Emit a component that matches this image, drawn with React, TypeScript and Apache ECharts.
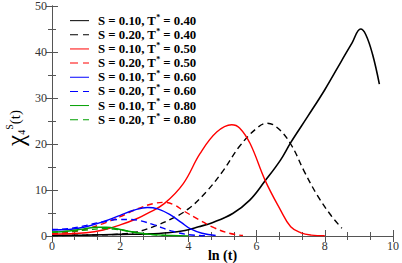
import React, { useEffect, useRef } from "react";
import * as echarts from "echarts";

const legendLabels = [
  ["0.10", "0.40"],
  ["0.20", "0.40"],
  ["0.10", "0.50"],
  ["0.20", "0.50"],
  ["0.10", "0.60"],
  ["0.20", "0.60"],
  ["0.10", "0.80"],
  ["0.20", "0.80"],
];
const seriesColors = ["#000000", "#000000", "#ff0000", "#ff0000", "#0000ff", "#0000ff", "#00a000", "#00a000"];
const seriesDashed = [false, true, false, true, false, true, false, true];

const s10T40 = [[0, 0.1], [1, 0.2], [2, 0.35], [2.8, 0.45], [3.4, 0.7], [3.9, 1.2], [4.3, 2.0], [4.7, 2.9], [5.3, 4.9], [5.8, 7.8], [6.25, 12], [6.7, 16.5], [7.0, 20.3], [7.5, 26], [8.0, 31.8], [8.5, 38.2], [8.8, 42], [9.05, 45], [9.2, 43.8], [9.4, 39.5], [9.6, 33]];
const s20T40 = [[0, 0.1], [1, 0.2], [2, 0.4], [2.5, 0.9], [3, 2.1], [3.5, 3.7], [4, 5.9], [4.5, 9.4], [5, 14], [5.5, 19.5], [6, 23.4], [6.3, 24.5], [6.6, 23.6], [7, 20], [7.4, 14], [7.8, 8.6], [8.2, 4.3], [8.5, 1.7]];
const s10T50 = [[0, 0.4], [1, 0.7], [1.5, 1.3], [2, 2.4], [2.5, 3.8], [2.8, 4.9], [3.3, 7.1], [3.85, 11.4], [4.34, 17.9], [4.83, 22.6], [5.27, 24.2], [5.5, 23.5], [5.81, 20.1], [6.25, 12.1], [6.69, 5.8], [7.0, 2.0], [7.3, 0.7], [7.6, 0.2], [8, 0.05]];
const s20T50 = [[0, 0.5], [0.5, 0.8], [1, 1.5], [1.5, 2.7], [2, 4.2], [2.5, 5.9], [3, 7.1], [3.3, 7.3], [3.6, 6.7], [3.85, 5.5], [4.3, 3.6], [4.75, 1.8], [5.2, 0.6], [5.6, 0.1]];
const s10T60 = [[0, 1.3], [0.5, 1.4], [1, 2.0], [1.5, 3.1], [2, 4.5], [2.4, 5.6], [2.8, 6.2], [3.1, 5.9], [3.45, 4.7], [3.8, 2.9], [4.05, 1.6], [4.4, 0.6], [4.8, 0.1]];
const s20T60 = [[0, 1.4], [0.5, 1.6], [1, 2.3], [1.5, 3.1], [2, 3.6], [2.3, 3.6], [2.6, 3.3], [3, 2.4], [3.5, 1.1], [4, 0.3], [4.5, 0.05]];
const s10T80 = [[0, 0.8], [0.5, 1.1], [0.9, 1.5], [1.3, 1.9], [1.6, 1.9], [2, 1.4], [2.5, 0.7], [3, 0.3], [3.5, 0.1], [4, 0.02]];
const s20T80 = [[0, 0.9], [0.5, 1.0], [1, 1.3], [1.5, 1.6], [1.8, 1.5], [2.2, 1.1], [2.6, 0.6], [3, 0.25], [3.5, 0.05]];
const seriesData = [s10T40, s20T40, s10T50, s20T50, s10T60, s20T60, s10T80, s20T80];

const xTicks = [0, 2, 4, 6, 8, 10];
const yTicks = [0, 10, 20, 30, 40, 50];

const serif = "'Liberation Serif', 'DejaVu Serif', serif";
const solidIcon = "path://M0,0h19v1h-19z";
const dashedIcon = "path://M0,0h8v1h-8zM13,0h6v1h-6z";

export default function App() {
  const ref = useRef<HTMLDivElement>(null);
  useEffect(() => {
    if (!ref.current) return;
    const chart = echarts.init(ref.current, null, { renderer: "svg" });
    const names = legendLabels.map(([s, t]) => `S = ${s}, T* = ${t}`);
    const axisColor = "#555";
    const baseX = {
      type: "value",
      min: xTicks[0],
      max: xTicks[xTicks.length - 1],
      interval: 2,
      minorTick: { show: true, splitNumber: 3, length: 4, lineStyle: { color: axisColor } },
      axisTick: { inside: true, length: 6, lineStyle: { color: axisColor } },
      axisLine: { show: true, lineStyle: { color: axisColor, width: 1 } },
      splitLine: { show: false },
    };
    const baseY = {
      type: "value",
      min: yTicks[0],
      max: yTicks[yTicks.length - 1],
      interval: 10,
      minorTick: { show: true, splitNumber: 2, length: 4, lineStyle: { color: axisColor } },
      axisTick: { inside: true, length: 6, lineStyle: { color: axisColor } },
      axisLine: { show: true, lineStyle: { color: axisColor, width: 1 } },
      splitLine: { show: false },
    };
    chart.setOption({
      animation: false,
      grid: { left: 52, right: 9, top: 6, bottom: 27, containLabel: false, outerBoundsMode: "none" },
      xAxis: [
        {
          ...baseX,
          position: "bottom",
          axisLabel: { fontFamily: serif, fontSize: 12, color: "#333", margin: 4 },
          name: "ln (t)",
          nameLocation: "middle",
          nameGap: 12,
          nameMoveOverlap: false,
          nameTextStyle: { fontFamily: serif, fontWeight: "bold", fontSize: 14, color: "#000" },
        },
        { ...baseX, position: "top", axisLabel: { show: false } },
      ],
      yAxis: [
        {
          ...baseY,
          position: "left",
          axisLabel: { fontFamily: serif, fontSize: 12, color: "#333", margin: 5 },
        },
        { ...baseY, position: "right", axisLabel: { show: false } },
      ],
      graphic: [
        {
          type: "text",
          x: 15,
          y: 128,
          rotation: Math.PI / 2,
          style: {
            text: "{c|χ}{sub|4}{sup|S}{p|(t)}",
            align: "center",
            verticalAlign: "middle",
            rich: {
              c: { fontFamily: serif, fontSize: 25, fill: "#000", lineHeight: 22 },
              sub: { fontFamily: serif, fontSize: 10, fill: "#000", verticalAlign: "bottom", lineHeight: 20 },
              sup: { fontFamily: serif, fontSize: 10, fill: "#000", verticalAlign: "top", lineHeight: 20 },
              p: { fontFamily: serif, fontSize: 15, fill: "#000", lineHeight: 22 },
            },
          },
        },
      ],
      legend: {
        orient: "vertical",
        left: 70,
        top: 13,
        padding: 0,
        itemWidth: 19,
        itemHeight: 2,
        itemGap: 0,
        data: names.map((n, i) => ({
          name: n,
          icon: seriesDashed[i] ? dashedIcon : solidIcon,
          itemStyle: { color: seriesColors[i], borderWidth: 0 },
          lineStyle: {
            color: seriesColors[i],
            width: 1.5,
            type: seriesDashed[i] ? [8, 5] : "solid",
          },
        })),
        formatter: (name: string) => {
          const m = name.match(/S = ([\d.]+), T\* = ([\d.]+)/);
          if (!m) return name;
          return `{a|S = ${m[1]}, T}{s|*}{a| = ${m[2]}}`;
        },
        textStyle: {
          padding: [0, 0, 0, 4],
          rich: {
            a: { fontFamily: serif, fontWeight: "bold", fontSize: 12.8, color: "#000", lineHeight: 15.3 },
            s: { fontFamily: serif, fontWeight: "bold", fontSize: 8, color: "#000", verticalAlign: "top", lineHeight: 15.3 },
          },
        },
      },
      series: seriesData.map((d, i) => ({
        name: names[i],
        type: "line",
        data: d,
        smooth: 0.4,
        symbol: "none",
        lineStyle: {
          color: seriesColors[i],
          width: i === 0 ? 1.6 : 1.4,
          type: seriesDashed[i] ? [6, 4] : "solid",
        },
        itemStyle: { color: seriesColors[i] },
      })),
    });
    return () => chart.dispose();
  }, []);
  return <div ref={ref} style={{ width: 402, height: 263, position: "absolute", left: 0, top: 0 }} />;
}
